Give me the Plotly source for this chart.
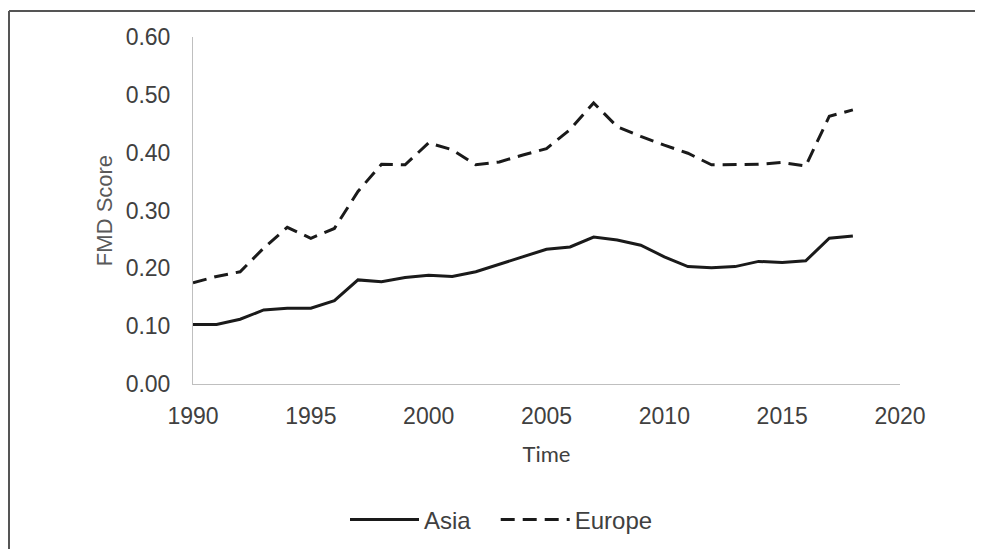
import plotly.graph_objects as go

years = list(range(1990, 2019))
asia = [0.103, 0.103, 0.112, 0.128, 0.131, 0.131, 0.144, 0.180, 0.177, 0.184,
        0.188, 0.186, 0.194, 0.207, 0.220, 0.233, 0.237, 0.254, 0.249, 0.240,
        0.220, 0.203, 0.201, 0.203, 0.212, 0.210, 0.213, 0.252, 0.256]
europe = [0.175, 0.186, 0.194, 0.235, 0.271, 0.252, 0.269, 0.333, 0.380, 0.379,
          0.417, 0.405, 0.379, 0.384, 0.396, 0.407, 0.440, 0.486, 0.445, 0.428,
          0.413, 0.399, 0.379, 0.379, 0.380, 0.383, 0.377, 0.463, 0.474]
x_ticks = [1990, 1995, 2000, 2005, 2010, 2015, 2020]
y_ticks = [0.0, 0.1, 0.2, 0.3, 0.4, 0.5, 0.6]

fig = go.Figure()
fig.add_trace(go.Scatter(x=years, y=asia, name="Asia\u00a0\u00a0\u00a0", mode="lines",
                         line=dict(color="#1a1a1a", width=3)))
fig.add_trace(go.Scatter(x=years, y=europe, name="Europe", mode="lines",
                         line=dict(color="#1a1a1a", width=3, dash="14px,8px")))

OFF = 8  # page body margin
W, H = 975, 549
L, R, T, B = 185, 83, 29, 173
pw, ph = W - L - R, H - T - B

def px(p):
    return (p - OFF - L) / pw

def py(p):
    return (H - B - (p - OFF)) / ph

tick_font = dict(family="Liberation Sans, Arial", size=23, color="#404040")

fig.update_layout(
    width=W, height=H,
    margin=dict(l=L, r=R, t=T, b=B),
    paper_bgcolor="white", plot_bgcolor="white",
    showlegend=True,
    legend=dict(orientation="h", x=px(345), y=py(520), xanchor="left", yanchor="middle",
                font=dict(family="Liberation Sans, Arial", size=24, color="#404040"),
                itemwidth=69, bgcolor="rgba(0,0,0,0)"),
    xaxis=dict(range=[1990, 2020], tickvals=x_ticks, ticktext=[str(v) for v in x_ticks],
               showgrid=False, zeroline=False, showline=True, linecolor="#bfbfbf", linewidth=1,
               ticks="", tickfont=tick_font, ticklabelstandoff=11,
               title=dict(text="Time", font=dict(family="Lato, Open Sans", size=22, color="#404040"),
                          standoff=19)),
    yaxis=dict(range=[0, 0.6], tickvals=y_ticks, ticktext=[f"{v:.2f}" for v in y_ticks],
               showgrid=False, zeroline=False, showline=True, linecolor="#bfbfbf", linewidth=1,
               ticks="", tickfont=tick_font, ticklabelstandoff=17,
               title=dict(text="FMD Score", font=dict(family="Liberation Sans, Arial", size=22, color="#595959"),
                          standoff=6)),
    shapes=[
        dict(type="line", xref="paper", yref="paper", x0=px(9), x1=px(983), y0=py(11), y1=py(11),
             line=dict(color="#555555", width=2)),
        dict(type="line", xref="paper", yref="paper", x0=px(9), x1=px(9), y0=py(11), y1=py(557),
             line=dict(color="#555555", width=2)),
    ],
)

fig.write_html("out.html")
